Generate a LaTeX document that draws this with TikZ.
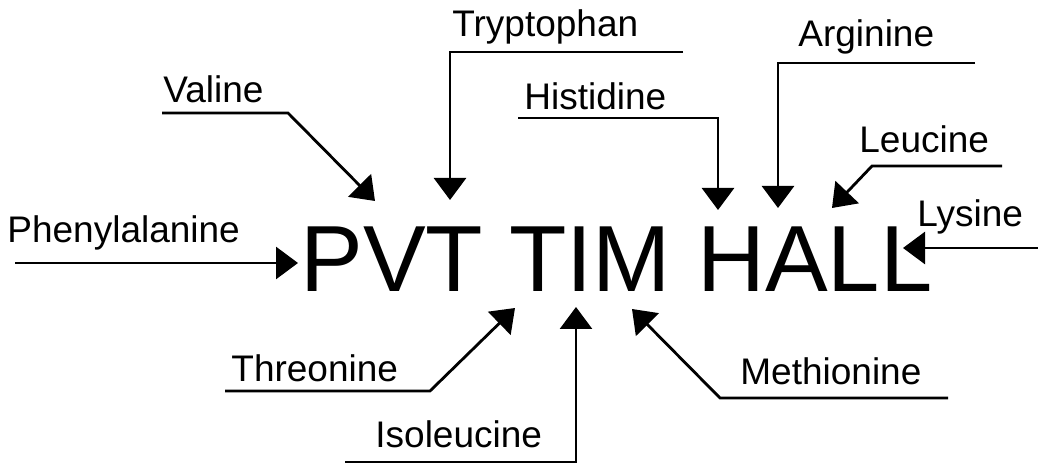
\documentclass[tikz,border=0pt]{standalone}
\usepackage{fontspec}
\setmainfont{Liberation Sans}
\usetikzlibrary{arrows.meta}
\tikzset{
  acid label/.style={
    anchor=base west,
    inner sep=0pt,
    font=\fontsize{18.5}{20}\selectfont,
    text=black
  },
  mnemonic text/.style={
    anchor=base west,
    inner sep=0pt,
    font=\fontsize{47}{50}\selectfont,
    text=black
  },
  lead line/.style={
    draw=black,
    line width=1.4pt
  },
  pointer/.style={
    lead line,
    -{Triangle[length=11pt,width=16pt]}
  }
}

\begin{document}
\begin{tikzpicture}[x=0.5pt,y=-0.5pt]
  \useasboundingbox (0,0) rectangle (1038,469);

  \node[mnemonic text] (mnemonic) at (300,292) {PVT TIM HALL};

  % labels above the word
  \node[acid label] (phe) at (7,243) {Phenylalanine};
  \node[acid label] (val) at (163,103) {Valine};
  \node[acid label] (trp) at (452,37) {Tryptophan};
  \node[acid label] (his) at (524,110) {Histidine};
  \node[acid label] (arg) at (798,47) {Arginine};
  \node[acid label] (leu) at (859,153) {Leucine};
  \node[acid label] (lys) at (917,227) {Lysine};
  % labels below the word
  \node[acid label] (thr) at (231,382) {Threonine};
  \node[acid label] (ile) at (375,448) {Isoleucine};
  \node[acid label] (met) at (740,385) {Methionine};

  % underline ends and bends
  \coordinate (phe-start) at (15,263);
  \coordinate (val-start) at (162,113);
  \coordinate (val-bend) at (288,113);
  \coordinate (trp-start) at (683,52);
  \coordinate (trp-bend) at (450,52);
  \coordinate (his-start) at (518,118);
  \coordinate (his-bend) at (718,118);
  \coordinate (arg-start) at (975,63);
  \coordinate (arg-bend) at (778,63);
  \coordinate (leu-start) at (1002,166);
  \coordinate (leu-bend) at (872,166);
  \coordinate (lys-start) at (1038,248);
  \coordinate (thr-start) at (225,391);
  \coordinate (thr-bend) at (430,391);
  \coordinate (ile-start) at (345,462);
  \coordinate (ile-bend) at (576,462);
  \coordinate (met-start) at (948,398);
  \coordinate (met-bend) at (720,398);

  % arrow tips at the letters
  \coordinate (phe-tip) at (298,263);
  \coordinate (val-tip) at (375,201);
  \coordinate (trp-tip) at (450,200);
  \coordinate (his-tip) at (718,210);
  \coordinate (arg-tip) at (778,208);
  \coordinate (leu-tip) at (832,208);
  \coordinate (lys-tip) at (903,248);
  \coordinate (thr-tip) at (515,308);
  \coordinate (ile-tip) at (576,307);
  \coordinate (met-tip) at (632,309);

  \draw[pointer] (phe-start) -- (phe-tip);
  \draw[pointer] (val-start) -- (val-bend) -- (val-tip);
  \draw[pointer] (trp-start) -- (trp-bend) -- (trp-tip);
  \draw[pointer] (his-start) -- (his-bend) -- (his-tip);
  \draw[pointer] (arg-start) -- (arg-bend) -- (arg-tip);
  \draw[pointer] (leu-start) -- (leu-bend) -- (leu-tip);
  \draw[pointer] (lys-start) -- (lys-tip);
  \draw[pointer] (thr-start) -- (thr-bend) -- (thr-tip);
  \draw[pointer] (ile-start) -- (ile-bend) -- (ile-tip);
  \draw[pointer] (met-start) -- (met-bend) -- (met-tip);
\end{tikzpicture}
\end{document}
